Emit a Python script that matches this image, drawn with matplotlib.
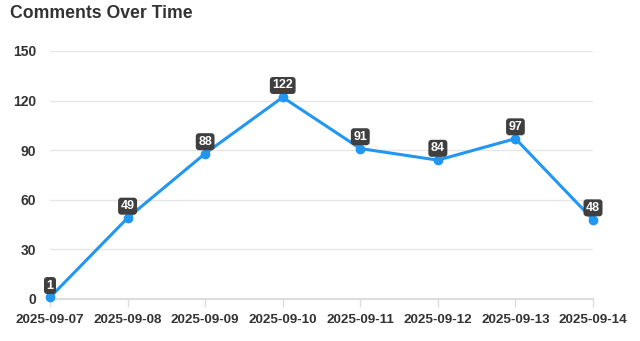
import matplotlib
matplotlib.use("Agg")
import matplotlib.pyplot as plt

plt.rcParams["font.family"] = ["Liberation Sans", "DejaVu Sans"]

dates = ["2025-09-07", "2025-09-08", "2025-09-09", "2025-09-10",
         "2025-09-11", "2025-09-12", "2025-09-13", "2025-09-14"]
comments = [1, 49, 88, 122, 91, 84, 97, 48]
y_ticks = [0, 30, 60, 90, 120, 150]

LINE = "#2196F3"
TEXT = "#333333"
GRID = "#E6E6E6"

fig = plt.figure(figsize=(6.4, 3.41), dpi=100)
ax = fig.add_axes([50 / 640, 42 / 341, 543 / 640, 248 / 341])

xs = list(range(len(dates)))
ax.plot(xs, comments, color=LINE, linewidth=2.2, zorder=3, clip_on=False)
ax.scatter(xs, comments, s=36, color=LINE, zorder=4, clip_on=False)

for x, v in zip(xs, comments):
    ax.annotate(str(v), (x, v), xytext=(0, 8.5), textcoords="offset points",
                ha="center", va="center", fontsize=9, fontweight="bold",
                color="white", zorder=5,
                bbox=dict(boxstyle="round,pad=0.2,rounding_size=0.25",
                          fc="#3f3f3f", ec="none"))

ax.set_xlim(0, len(dates) - 1)
ax.set_ylim(0, 150)
ax.set_xticks(xs)
ax.set_xticklabels(dates)
ax.set_yticks(y_ticks)

ax.grid(axis="y", color=GRID, linewidth=1)
ax.set_axisbelow(True)
for s in ("top", "right", "left"):
    ax.spines[s].set_visible(False)
ax.spines["bottom"].set_color("#DDDDDD")
ax.spines["bottom"].set_linewidth(1.5)
ax.tick_params(axis="x", length=6, width=1, color="#DDDDDD", pad=5,
               labelsize=9.7, labelcolor=TEXT)
ax.tick_params(axis="y", length=0, pad=10, labelsize=10, labelcolor=TEXT)
for lab in ax.get_xticklabels() + ax.get_yticklabels():
    lab.set_fontweight("bold")

fig.text(10 / 640, 1 - 14 / 341, "Comments Over Time", fontsize=12.7,
         fontweight="bold", color=TEXT, va="center", ha="left")

fig.savefig("out.png", dpi=100)
